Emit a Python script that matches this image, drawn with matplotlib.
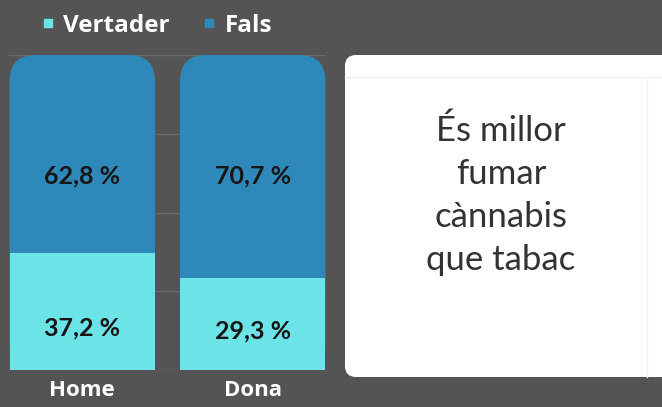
import matplotlib
matplotlib.use("Agg")
import matplotlib.pyplot as plt
from matplotlib.patches import FancyBboxPatch
from matplotlib.lines import Line2D

categories = ["Home", "Dona"]
vertader = [37.2, 29.3]
fals = [62.8, 70.7]
series_names = ["Vertader", "Fals"]
box_text = "És millor\nfumar\ncànnabis\nque tabac"

BG = "#545454"
C_VER = "#6be3e7"
C_FAL = "#2e89ba"
GRID = "#6a6a6a"

W, H = 662, 407
fig = plt.figure(figsize=(W / 100, H / 100), dpi=100, facecolor=BG)

# main axes: x 9..326 px, y 55..370 px (from top)
ax = fig.add_axes([9 / W, (H - 370) / H, (326 - 9) / W, (370 - 55) / H])
ax.set_facecolor(BG)
x = list(range(len(categories)))
ax.set_xlim(-0.43, len(categories) - 1 + 0.43)
ax.set_ylim(0, 100)

for yv in [0, 25, 50, 75, 100]:
    ax.axhline(yv, color=GRID, lw=1, zorder=0)

bw = 0.853
fals_bars = ax.bar(x, fals, bottom=vertader, width=bw, color=C_FAL, zorder=1)
# replace the Fals rectangles with rounded-top boxes spanning the full stack
px_x = (326 - 9) / (0.86 + len(categories) - 1)
px_y = (370 - 55) / 100
r_px = 26
for b in fals_bars:
    b.set_visible(False)
    x0 = b.get_x()
    top = b.get_y() + b.get_height()
    p = FancyBboxPatch((x0, 0), b.get_width(), top,
                       boxstyle=f"round,pad=0,rounding_size={r_px / px_x}",
                       mutation_aspect=(r_px / px_y) / (r_px / px_x),
                       fc=C_FAL, ec="none", zorder=1)
    ax.add_patch(p)
ver_bars = ax.bar(x, vertader, width=bw, color=C_VER, zorder=2)

num_font = dict(family="Lato", weight="bold", fontsize=18, color="#161616",
                ha="center", va="center", zorder=3)
for i in x:
    ax.text(i, 61.5, f"{fals[i]:.1f} %".replace(".", ","), **num_font)
    ax.text(i, 13.5 if i == 0 else 12.5, f"{vertader[i]:.1f} %".replace(".", ","), **num_font)

ax.set_xticks(x)
ax.set_xticklabels(categories, fontsize=16, fontweight="bold", color="white", family="Open Sans")
ax.tick_params(axis="x", length=0, pad=7)
ax.set_yticks([])
for s in ax.spines.values():
    s.set_visible(False)

# legend
handles = [Line2D([], [], marker="s", ls="none", color=c, markersize=5.5)
           for c in (C_VER, C_FAL)]
leg = fig.legend(handles, series_names, loc="upper left", bbox_to_anchor=(16 / W, 1 + 8 / H),
                 ncol=2, frameon=False, handletextpad=0.25, columnspacing=1.2,
                 handlelength=0.8, prop=dict(family="Open Sans", weight="bold", size=17.5))
for t in leg.get_texts():
    t.set_color("white")

# white info box
ov = fig.add_axes([0, 0, 1, 1], zorder=-1)
ov.set_xlim(0, W)
ov.set_ylim(H, 0)
ov.axis("off")
ov.add_patch(FancyBboxPatch((345, 55), 340, 322, boxstyle="round,pad=0,rounding_size=11",
                            fc="white", ec="none"))
ov.plot([345, W], [77, 77], color="#f0f0f0", lw=1)
ov.plot([647, 647], [77, 377], color="#f2f2f2", lw=1)
ov.text(501, 195, box_text, ha="center", va="center", fontsize=25, family="Lato",
        weight="normal", color="#333333", linespacing=1.42)

fig.savefig("out.png", dpi=100, facecolor=BG)
